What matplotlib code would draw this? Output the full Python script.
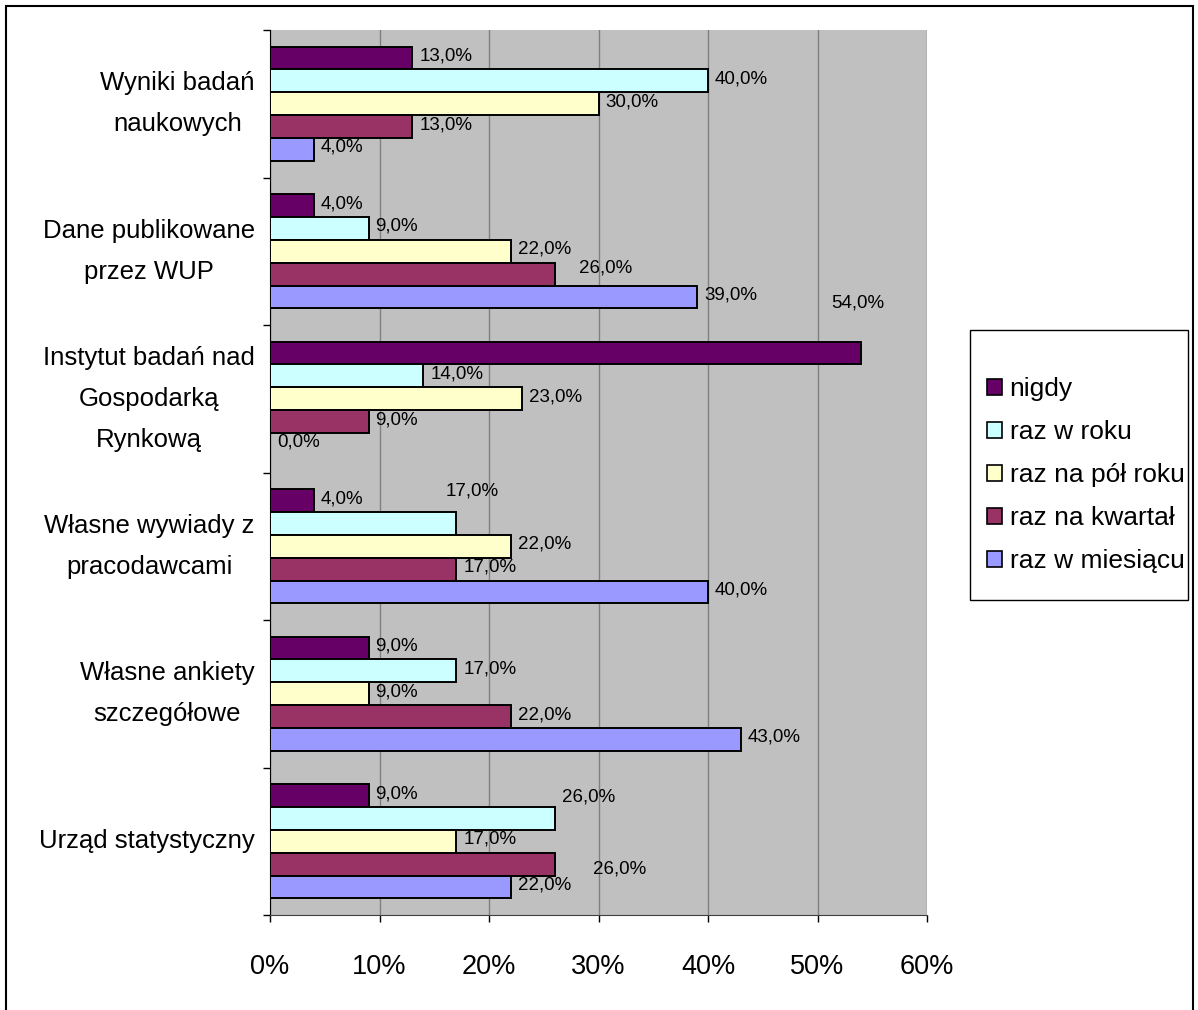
import numpy as np
import matplotlib
matplotlib.use('Agg')
import matplotlib.pyplot as plt
from matplotlib.patches import Patch, Rectangle

plt.rcParams['font.family'] = ['Liberation Sans', 'DejaVu Sans']

categories = ['Wyniki badań\nnaukowych',
              'Dane publikowane\nprzez WUP',
              'Instytut badań nad\nGospodarką\nRynkową',
              'Własne wywiady z\npracodawcami',
              'Własne ankiety\nszczegółowe',
              'Urząd statystyczny']
series = ['nigdy', 'raz w roku', 'raz na pół roku', 'raz na kwartał', 'raz w miesiącu']
nigdy = [13, 4, 54, 4, 9, 9]
raz_w_roku = [40, 9, 14, 17, 17, 26]
raz_na_pol_roku = [30, 22, 23, 22, 9, 17]
raz_na_kwartal = [13, 26, 9, 17, 22, 26]
raz_w_miesiacu = [4, 39, 0, 40, 43, 22]
values = [nigdy, raz_w_roku, raz_na_pol_roku, raz_na_kwartal, raz_w_miesiacu]
colors = ['#660066', '#CCFFFF', '#FFFFCC', '#993366', '#9999FF']

# labels that Excel moved away from the bar end (pixels, up is positive)
label_shift = {(1, 3): (24, 6), (2, 0): (-30, 50), (3, 1): (-11, 32),
               (5, 1): (7, 21), (5, 3): (38, -5)}

fig = plt.figure(figsize=(11.98, 10.10), dpi=100)
ax = fig.add_axes([270 / 1198, 1 - 915 / 1010, 657 / 1198, 885 / 1010])
ax.set_facecolor('#C0C0C0')

h = 0.155
y = np.arange(len(categories))
for j, vals in enumerate(values):
    ypos = y + (j - 2) * h
    ax.barh(ypos, vals, height=h, color=colors[j], edgecolor='black', linewidth=1.4, zorder=3)
    for i, v in enumerate(vals):
        dx, dy = label_shift.get((i, j), (7, 2))
        ax.annotate(f'{v:.1f}%'.replace('.', ','), (v, ypos[i]), xytext=(dx, dy),
                    textcoords='offset pixels', ha='left', va='center', fontsize=13.5, zorder=4)

ax.set_xlim(0, 60)
ax.set_ylim(len(categories) - 0.5, -0.5)
ax.set_xticks(np.arange(0, 61, 10))
ax.set_xticklabels([f'{t}%' for t in range(0, 61, 10)], fontsize=19.5)
ax.grid(axis='x', color='#808080', linewidth=1, zorder=0)
ax.set_axisbelow(True)

ax.set_yticks(np.arange(-0.5, len(categories), 1))
ax.set_yticklabels([])
ax.set_yticks(y, minor=True)
ax.set_yticklabels(categories, minor=True, fontsize=18.5)
for lab in ax.get_yticklabels(minor=True):
    lab.set_multialignment('center')
    lab.set_verticalalignment('center')
    lab.set_linespacing(1.9)
ax.tick_params(axis='y', which='minor', length=0, pad=11)
ax.tick_params(axis='y', which='major', length=5, width=1, direction='out')
ax.tick_params(axis='x', length=5, width=1, direction='out', pad=23)

for s in ['top', 'right']:
    ax.spines[s].set_visible(False)
ax.spines['left'].set_color('black')
ax.spines['bottom'].set_color('#404040')

handles = [Patch(facecolor=c, edgecolor='black', linewidth=1.2) for c in colors]
fig.legend(handles, series, loc='upper left', bbox_to_anchor=(974 / 1198, 1 - 364 / 1010),
           frameon=False, fontsize=19, borderpad=0, labelspacing=0.72,
           handlelength=0.55, handleheight=0.55, handletextpad=0.3)

fig.patches.append(Rectangle((970 / 1198, 1 - 600 / 1010), 218 / 1198, 270 / 1010,
                             transform=fig.transFigure, fill=False, edgecolor='black', linewidth=1))
fig.patches.append(Rectangle((6 / 1198, -0.05), 1187 / 1198, 1.05 - 6 / 1010,
                             transform=fig.transFigure, fill=False, edgecolor='black', linewidth=1.5))

fig.savefig('out.png', dpi=100, facecolor='white')
